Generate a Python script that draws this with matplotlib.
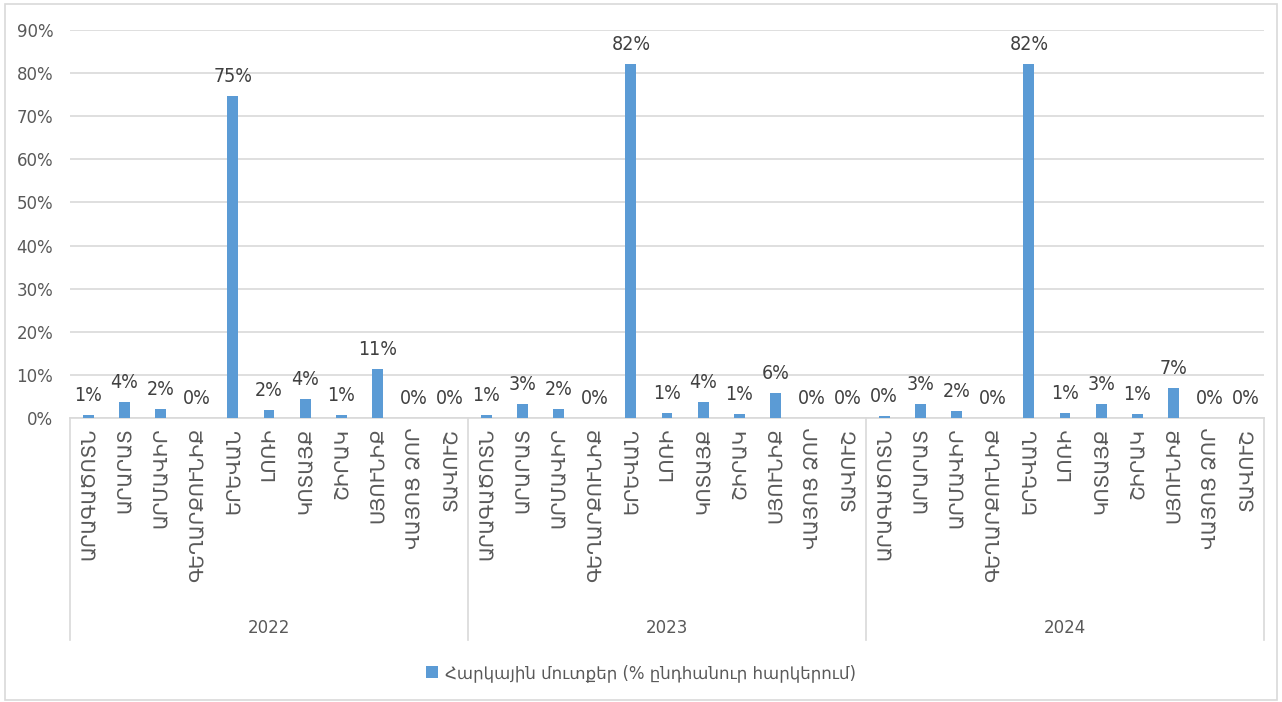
import numpy as np
import matplotlib.pyplot as plt
from matplotlib.lines import Line2D

regions = ["ԱՐԱԳԱԾՈՏՆ", "ԱՐԱՐԱՏ", "ԱՐՄԱՎԻՐ", "ԳԵՂԱՐՔՈՒՆԻՔ", "ԵՐԵՎԱՆ", "ԼՈՌԻ",
           "ԿՈՏԱՅՔ", "ՇԻՐԱԿ", "ՍՅՈՒՆԻՔ", "ՎԱՅՈՑ ՁՈՐ", "ՏԱՎՈՒՇ"]
years = ["2022", "2023", "2024"]
share_2022 = [0.8, 3.8, 2.1, 0.1, 74.6, 1.8, 4.3, 0.6, 11.3, 0.0, 0.0]
share_2023 = [0.6, 3.2, 2.1, 0.1, 82.2, 1.2, 3.6, 1.0, 5.7, 0.0, 0.0]
share_2024 = [0.4, 3.2, 1.6, 0.1, 82.0, 1.2, 3.2, 1.0, 6.9, 0.0, 0.0]
legend_label = "Հարկային մուտքեր (% ընդհանուր հարկերում)"

plt.rcParams['font.family'] = ['DejaVu Sans']
txt = "#595959"

values = share_2022 + share_2023 + share_2024
labels = regions * 3
x = np.arange(len(values))

fig = plt.figure(figsize=(12.82, 7.02), dpi=100)
ax = fig.add_axes([70 / 1282, 1 - 418 / 702, (1264 - 70) / 1282, 388 / 702])

bars = ax.bar(x, values, width=0.3, color="#5B9BD5", label=legend_label, zorder=3)
for xi, v in zip(x, values):
    ax.annotate(f"{v:.0f}%", (xi, v), xytext=(0, 10), textcoords="offset pixels",
                ha="center", va="bottom", fontsize=14, color="#404040",
                fontstretch="condensed")

ax.set_xlim(-0.5, len(values) - 0.5)
ax.set_ylim(0, 90)
ax.set_yticks(range(0, 91, 10))
ax.set_yticklabels([f"{t}%" for t in range(0, 91, 10)], fontsize=12, color=txt)
ax.yaxis.grid(True, color="#D9D9D9", linewidth=1.2, zorder=0)
ax.tick_params(axis="y", length=0, pad=12)
ax.set_xticks(x)
ax.set_xticklabels(labels, rotation=90, fontsize=14, color=txt, va="top")
ax.tick_params(axis="x", length=0, pad=7)
for s in ["top", "right", "left"]:
    ax.spines[s].set_visible(False)
ax.spines["bottom"].set_color("#D9D9D9")
ax.spines["bottom"].set_linewidth(1.2)

# multi-level axis separators and year labels
n = len(regions)
for g in range(len(years) + 1):
    xb = g * n - 0.5
    ax.add_line(Line2D([xb, xb], [0, -0.572], transform=ax.get_xaxis_transform(),
                       color="#D9D9D9", linewidth=1.2, clip_on=False))
for g, yr in enumerate(years):
    ax.text(g * n + (n - 1) / 2, -0.54, yr, transform=ax.get_xaxis_transform(),
            ha="center", va="center", fontsize=12, color=txt)

fig.legend(handles=[bars], labels=[legend_label], loc="center",
           bbox_to_anchor=(0.5, 1 - 673 / 702), frameon=False, fontsize=12,
           handlelength=0.7, handleheight=0.7, handletextpad=0.4, labelcolor=txt)

fig.add_artist(plt.Rectangle((5 / 1282, 2 / 702), 1272 / 1282, 696 / 702,
                             transform=fig.transFigure, fill=False,
                             edgecolor="#D9D9D9", linewidth=1.2))

fig.savefig("out.png", dpi=100)
